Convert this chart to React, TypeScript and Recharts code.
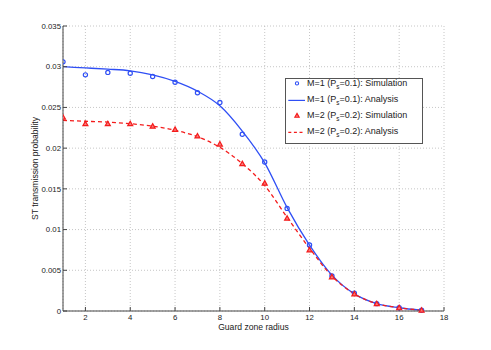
import { ComposedChart, Line, XAxis, YAxis, CartesianGrid, Legend } from "recharts";

const radius = [1, 2, 3, 4, 5, 6, 7, 8, 9, 10, 11, 12, 13, 14, 15, 16, 17];
const sim1 = [0.0306, 0.029, 0.0293, 0.0292, 0.0288, 0.0281, 0.0268, 0.0256, 0.0217, 0.0183, 0.0126, 0.0081, 0.0043, 0.0022, 0.0009, 0.0004, 0.0001];
const ana1 = [0.03, 0.02985, 0.0297, 0.0295, 0.029, 0.0282, 0.027, 0.0252, 0.0221, 0.0182, 0.0127, 0.0081, 0.0044, 0.0021, 0.0009, 0.0004, 0.0001];
const sim2 = [0.0238, 0.023, 0.023, 0.023, 0.0227, 0.0223, 0.0215, 0.0205, 0.0181, 0.0157, 0.0114, 0.0075, 0.0042, 0.0021, 0.0009, 0.0004, 0.0001];
const ana2 = [0.0234, 0.0233, 0.0232, 0.023, 0.0227, 0.0222, 0.0214, 0.0201, 0.0181, 0.0154, 0.0115, 0.0077, 0.0043, 0.0021, 0.0009, 0.0004, 0.0001];

const xTicks = [2, 4, 6, 8, 10, 12, 14, 16, 18];
const yTicks = [0, 0.005, 0.01, 0.015, 0.02, 0.025, 0.03, 0.035];

const legendItems = [
  { m: "M=1", ps: "0.1", kind: "Simulation" },
  { m: "M=1", ps: "0.1", kind: "Analysis" },
  { m: "M=2", ps: "0.2", kind: "Simulation" },
  { m: "M=2", ps: "0.2", kind: "Analysis" },
];

const data = radius.map((x, i) => ({
  x,
  sim1: sim1[i],
  ana1: ana1[i],
  sim2: sim2[i],
  ana2: ana2[i],
}));

const BLUE = "#2f4ff5";
const RED = "#f41c1c";
const FONT = "'Liberation Sans', Arial, sans-serif";
const tickStyle = { fill: "#222", fontSize: 7.8, fontFamily: FONT };

function CircleDot(props: any) {
  const { cx, cy } = props;
  if (cx == null || cy == null) return null;
  return <circle cx={cx} cy={cy} r={2.1} fill="none" stroke={BLUE} strokeWidth={1.2} />;
}

function TriDot(props: any) {
  const { cx, cy } = props;
  if (cx == null || cy == null) return null;
  const s = 2.5;
  return (
    <path
      d={`M${cx},${cy - s} L${cx + s},${cy + s * 0.8} L${cx - s},${cy + s * 0.8} Z`}
      fill="#f87a7a"
      stroke={RED}
      strokeWidth={1.2}
    />
  );
}

function LegendBox() {
  const w = 138;
  const h = 66;
  return (
    <svg width={w} height={h} style={{ display: "block" }}>
      <rect x={0.5} y={0.5} width={w - 1} height={h - 1} fill="#fff" stroke="#555" />
      {legendItems.map((it, i) => {
        const base = 8.4 + i * 16;
        const mid = base - 3;
        let marker;
        if (i === 0) marker = <circle cx={12} cy={mid} r={1.6} fill="none" stroke={BLUE} strokeWidth={1.1} />;
        else if (i === 1) marker = <line x1={3.3} x2={20} y1={mid + 1} y2={mid + 1} stroke={BLUE} strokeWidth={1.2} />;
        else if (i === 2)
          marker = <path d={`M12,${mid - 2} L14.2,${mid + 1.8} L9.8,${mid + 1.8} Z`} fill="#f87a7a" stroke={RED} strokeWidth={1.1} />;
        else
          marker = (
            <line x1={3.3} x2={20} y1={mid + 1} y2={mid + 1} stroke={RED} strokeWidth={1.2} strokeDasharray="3 2.6" />
          );
        return (
          <g key={i}>
            {marker}
            <text x={22} y={base} fontSize={9} fontFamily={FONT} fill="#222">
              {it.m} (P
              <tspan dy={3} fontSize={6.3}>s</tspan>
              <tspan dy={-3}>={it.ps}): {it.kind}</tspan>
            </text>
          </g>
        );
      })}
    </svg>
  );
}

export default function App() {
  return (
    <div style={{ position: "absolute", left: 0, top: 0, width: 491, height: 350, background: "#fff" }}>
      <ComposedChart width={491} height={350} data={data} margin={{ top: 26, right: 47, bottom: 7, left: 7 }}>
        <CartesianGrid stroke="#b8b8b8" strokeDasharray="1 2" strokeWidth={0.8} />
        <XAxis
          dataKey="x"
          type="number"
          domain={[1, 18]}
          ticks={xTicks}
          allowDataOverflow
          height={32}
          tickSize={-4}
          tickMargin={7}
          tick={tickStyle}
          stroke="#444"
          label={{ value: "Guard zone radius", position: "center", fill: "#222", fontSize: 8.6, fontFamily: FONT }}
        />
        <XAxis
          xAxisId="top"
          orientation="top"
          dataKey="x"
          type="number"
          domain={[1, 18]}
          ticks={xTicks}
          allowDataOverflow
          height={0}
          tickSize={-4}
          tick={false}
          stroke="#444"
        />
        <YAxis
          type="number"
          domain={[0, 0.035]}
          ticks={yTicks}
          width={56}
          tickSize={-4}
          tickMargin={6}
          tick={tickStyle}
          stroke="#444"
          label={{ value: "ST transmission probability", angle: -90, position: "center", fill: "#222", fontSize: 8.6, fontFamily: FONT }}
        />
        <YAxis
          yAxisId="right"
          orientation="right"
          type="number"
          domain={[0, 0.035]}
          ticks={yTicks}
          width={0}
          tickSize={-4}
          tick={false}
          stroke="#444"
        />
        <Line dataKey="ana1" type="monotone" stroke={BLUE} strokeWidth={1.3} dot={false} isAnimationActive={false} />
        <Line dataKey="sim1" stroke="none" dot={<CircleDot />} activeDot={false} isAnimationActive={false} />
        <Line
          dataKey="ana2"
          type="monotone"
          stroke={RED}
          strokeWidth={1.3}
          strokeDasharray="4 3"
          dot={false}
          isAnimationActive={false}
        />
        <Line dataKey="sim2" stroke="none" dot={<TriDot />} activeDot={false} isAnimationActive={false} />
        <Legend
          layout="horizontal"
          verticalAlign="middle"
          content={() => <LegendBox />}
          wrapperStyle={{ position: "absolute", left: 285, top: 78, width: 138, height: 66 }}
        />
      </ComposedChart>
    </div>
  );
}
